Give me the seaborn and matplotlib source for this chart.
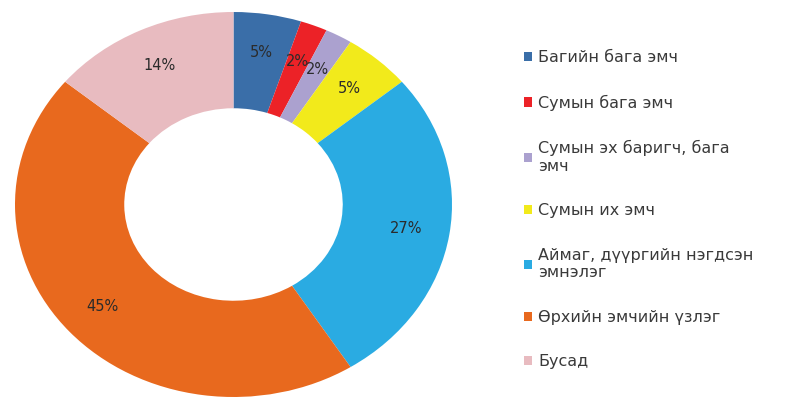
import numpy as np
import pandas as pd
import matplotlib
matplotlib.use('Agg')
import matplotlib.pyplot as plt
import seaborn as sns

### donut chart: where patients first went for care

categories = ['Багийн бага эмч',
              'Сумын бага эмч',
              'Сумын эх баригч, бага\nэмч',
              'Сумын их эмч',
              'Аймаг, дүүргийн нэгдсэн\nэмнэлэг',
              'Өрхийн эмчийн үзлэг',
              'Бусад']
shares = [5, 2, 2, 5, 27, 45, 14]
colors = ['#3A6EA8', '#EC2227', '#ABA1CF', '#F2EA1B',
          '#2AABE2', '#E8691E', '#E8BBC0']

df = pd.DataFrame({'category': categories, 'share': shares})

sns.set_theme(style='white')
plt.rcParams['font.family'] = ['DejaVu Sans']

fig = plt.figure(figsize=(8.07, 4.09), dpi=100)
ax  = fig.add_axes([15/807, 12/409, 437/807, 385/409])

wedges, texts, autotexts = ax.pie(
    df['share'], colors=sns.color_palette(colors),
    startangle=90, counterclock=False,
    autopct='%d%%', pctdistance=0.8,
    wedgeprops=dict(width=0.5, linewidth=0),
    textprops=dict(fontsize=10.5, color='#2b2b2b'))

# the original is a bit wider than tall
ax.set_aspect('auto')
ax.set_xlim(-1, 1)
ax.set_ylim(-1, 1)
ax.axis('off')

fig.legend(wedges, df['category'], loc='upper left',
           bbox_to_anchor=(516/807, 1 - 42/409), frameon=False,
           fontsize=11.5, labelcolor='#3a3a3a', borderpad=0,
           handlelength=0.5, handleheight=0.5, handletextpad=0.4,
           labelspacing=1.85)

fig.savefig('out.png', dpi=100, facecolor='white')
